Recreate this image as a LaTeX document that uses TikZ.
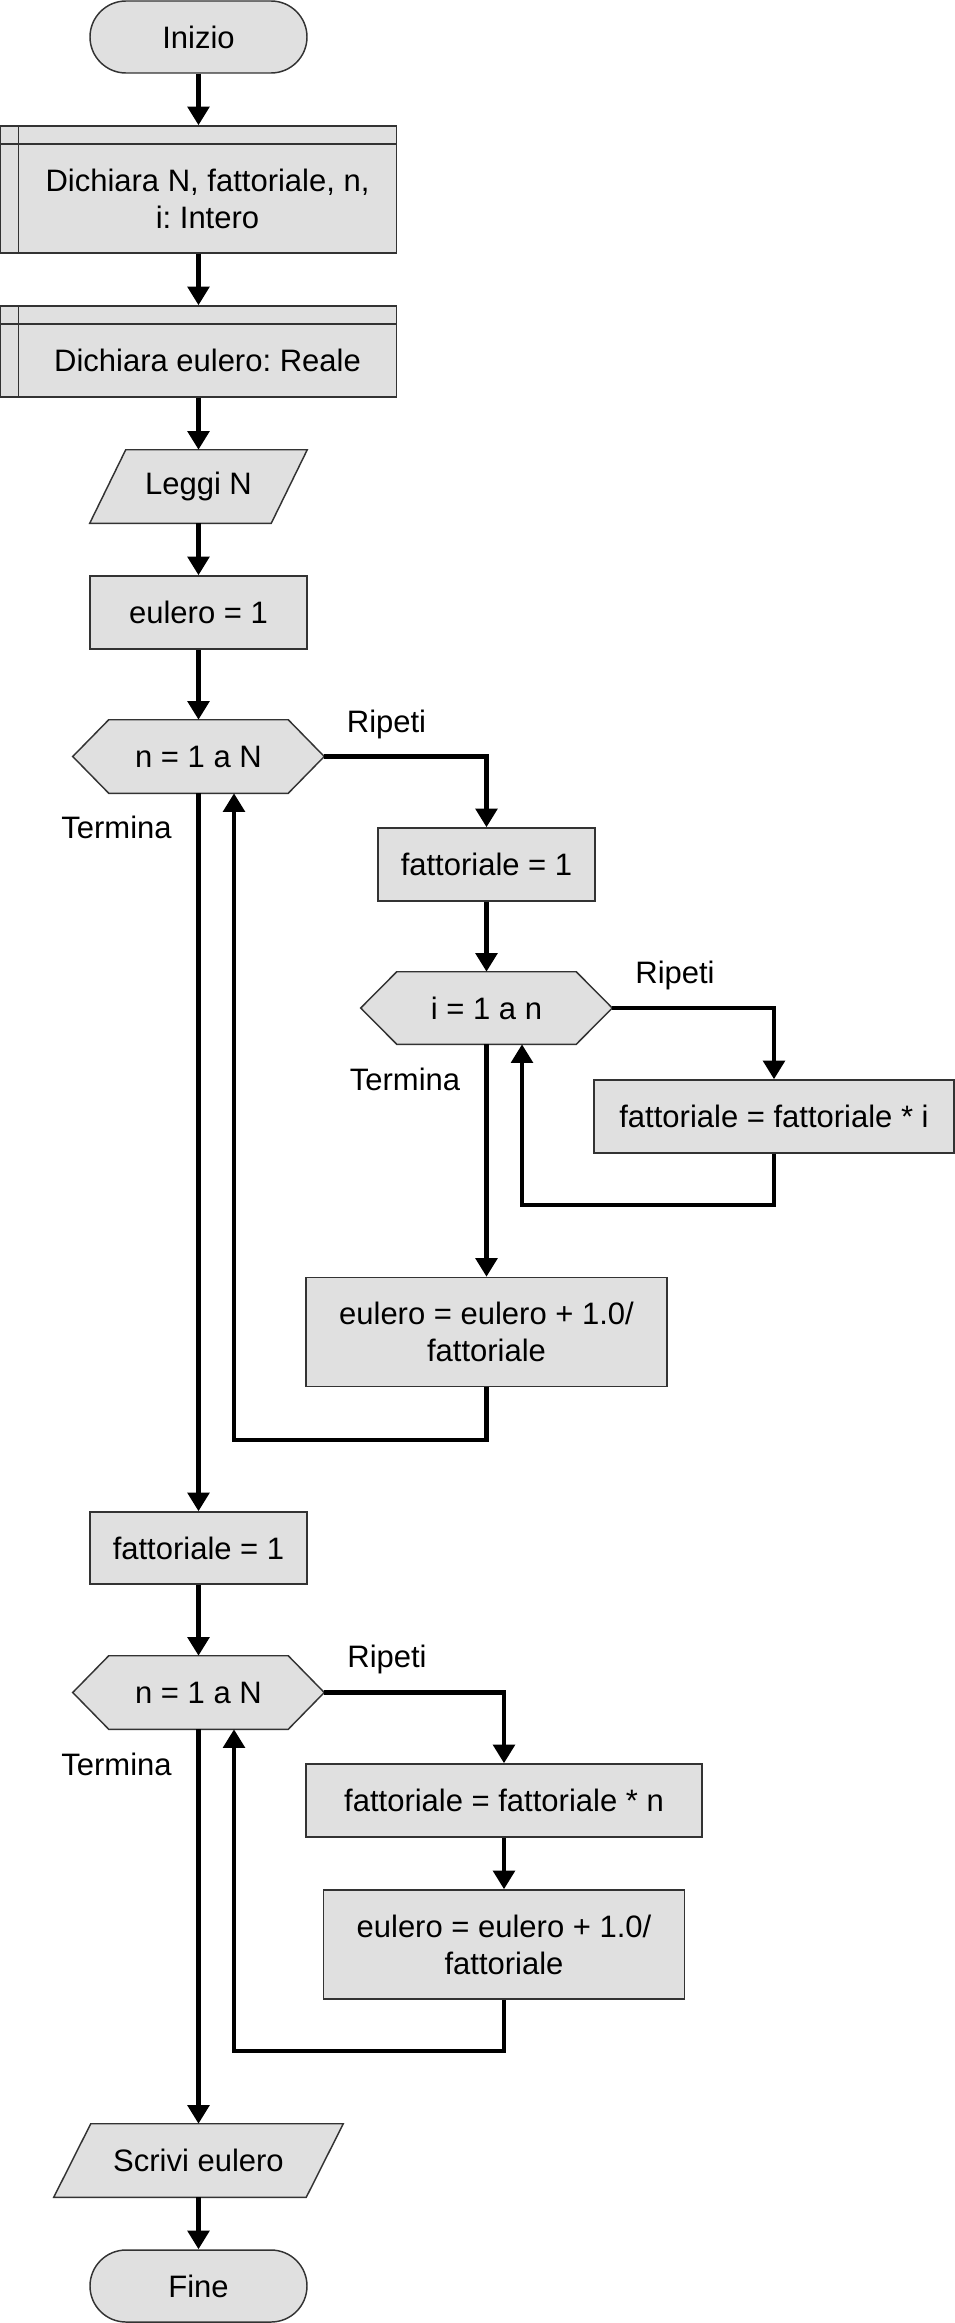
\documentclass[tikz,border=0pt]{standalone}
\usepackage{fontspec}
\setmainfont{Liberation Sans}
\frenchspacing
\usetikzlibrary{arrows.meta,backgrounds,shapes.misc}
\definecolor{boxfill}{HTML}{E0E0E0}
\definecolor{boxline}{HTML}{333333}
\tikzset{
  txt/.style={font=\fontsize{23.25}{27.75}\selectfont, inner sep=0pt, text=black},
  shapeline/.style={draw=boxline, fill=boxfill, line width=1.1pt},
  proc/.style={txt, shapeline, align=center, rectangle},
  term/.style={txt, shapeline, rounded rectangle},
  bare/.style={txt, align=center, rectangle},
  decl/.style={proc, path picture={
      \draw[boxline, line width=1.1pt] ([xshift=13.5pt]path picture bounding box.north west) -- ([xshift=13.5pt]path picture bounding box.south west);
      \draw[boxline, line width=1.1pt] ([yshift=-13.5pt]path picture bounding box.north west) -- ([yshift=-13.5pt]path picture bounding box.north east);}},
  decltext/.style={txt, align=center, xshift=6.75pt, yshift=-6.75pt},
  flow/.style={line width=3.5pt, draw=black, -{Triangle[length=14pt,width=16pt]}},
  lbl/.style={txt, anchor=base}
}
\begin{document}
\begin{tikzpicture}[x=0.75pt,y=-0.75pt]
\path[use as bounding box] (0,0) rectangle (955,2323);

% nodes
\node[term, minimum width=162.75pt, minimum height=54pt] (start) at (198.5,37) {Inizio};
\node[decl, minimum width=297pt, minimum height=95.25pt,
      label={[decltext]center:Dichiara N, fattoriale, n,\\i: Intero}] (d1) at (198.5,189.5) {};
\node[decl, minimum width=297pt, minimum height=68.25pt,
      label={[decltext]center:Dichiara eulero: Reale}] (d2) at (198.5,351.5) {};
\node[bare, minimum width=162.75pt, minimum height=54.75pt] (lg) at (198.5,486.5) {Leggi N};
\node[proc, minimum width=162.75pt, minimum height=54.75pt] (e0) at (198.5,612.5) {eulero = 1};
\node[bare, minimum width=188.25pt, minimum height=54.75pt] (h1) at (198.5,756.5) {n = 1 a N};
\node[proc, minimum width=162.75pt, minimum height=54.75pt] (f1) at (486.5,864.5) {fattoriale = 1};
\node[bare, minimum width=188.25pt, minimum height=54pt] (h2) at (486.5,1008) {i = 1 a n};
\node[proc, minimum width=270pt, minimum height=54.75pt] (fi) at (774,1116.5) {fattoriale = fattoriale * i};
\node[proc, minimum width=270.75pt, minimum height=81.75pt] (e1) at (486.5,1332) {eulero = eulero + 1.0/\\fattoriale};
\node[proc, minimum width=162.75pt, minimum height=54pt] (f2) at (198.5,1548) {fattoriale = 1};
\node[bare, minimum width=188.25pt, minimum height=54.75pt] (h3) at (198.5,1692.5) {n = 1 a N};
\node[proc, minimum width=297pt, minimum height=54.75pt] (fn) at (504,1800.5) {fattoriale = fattoriale * n};
\node[proc, minimum width=270.75pt, minimum height=81.75pt] (e2) at (504,1944.5) {eulero = eulero + 1.0/\\fattoriale};
\node[bare, minimum width=216.75pt, minimum height=54.75pt] (wr) at (198.5,2160.5) {Scrivi eulero};
\node[term, minimum width=162.75pt, minimum height=54pt] (stop) at (198.5,2286) {Fine};

% hexagon and parallelogram outlines
\begin{scope}[on background layer]
  \foreach \n in {h1,h2,h3}
    \draw[shapeline] (\n.west) -- ([xshift=27pt]\n.north west) -- ([xshift=-27pt]\n.north east)
      -- (\n.east) -- ([xshift=-27pt]\n.south east) -- ([xshift=27pt]\n.south west) -- cycle;
  \draw[shapeline] ([xshift=27pt]lg.north west) -- (lg.north east) -- ([xshift=-27pt]lg.south east) -- (lg.south west) -- cycle;
  \draw[shapeline] ([xshift=27.75pt]wr.north west) -- (wr.north east) -- ([xshift=-27.75pt]wr.south east) -- (wr.south west) -- cycle;
\end{scope}

% branch labels
\node[lbl] (r1) at (386.5,732) {Ripeti};
\node[lbl] (t1) at (116.5,838) {Termina};
\node[lbl] (r2) at (675,983) {Ripeti};
\node[lbl] (t2) at (405,1090) {Termina};
\node[lbl] (r3) at (387,1667) {Ripeti};
\node[lbl] (t3) at (116.5,1775) {Termina};

% loop corners
\coordinate (l1) at (234,1440);
\coordinate (l2) at (522,1205);
\coordinate (l3) at (234,2051);

% connectors
\draw[flow] (start.south) -- (d1.north);
\draw[flow] (d1.south) -- (d2.north);
\draw[flow] (d2.south) -- (lg.north);
\draw[flow] (lg.south) -- (e0.north);
\draw[flow] (e0.south) -- (h1.north);
\draw[flow] (h1.east) -| (f1.north);
\draw[flow] (f1.south) -- (h2.north);
\draw[flow] (h2.east) -| (fi.north);
\draw[flow] (fi.south) |- (l2) -- (l2 |- h2.south);
\draw[flow] (h2.south) -- (e1.north);
\draw[flow] (e1.south) |- (l1) -- (l1 |- h1.south);
\draw[flow] (h1.south) -- (f2.north);
\draw[flow] (f2.south) -- (h3.north);
\draw[flow] (h3.east) -| (fn.north);
\draw[flow] (fn.south) -- (e2.north);
\draw[flow] (e2.south) |- (l3) -- (l3 |- h3.south);
\draw[flow] (h3.south) -- (wr.north);
\draw[flow] (wr.south) -- (stop.north);
\end{tikzpicture}
\end{document}
